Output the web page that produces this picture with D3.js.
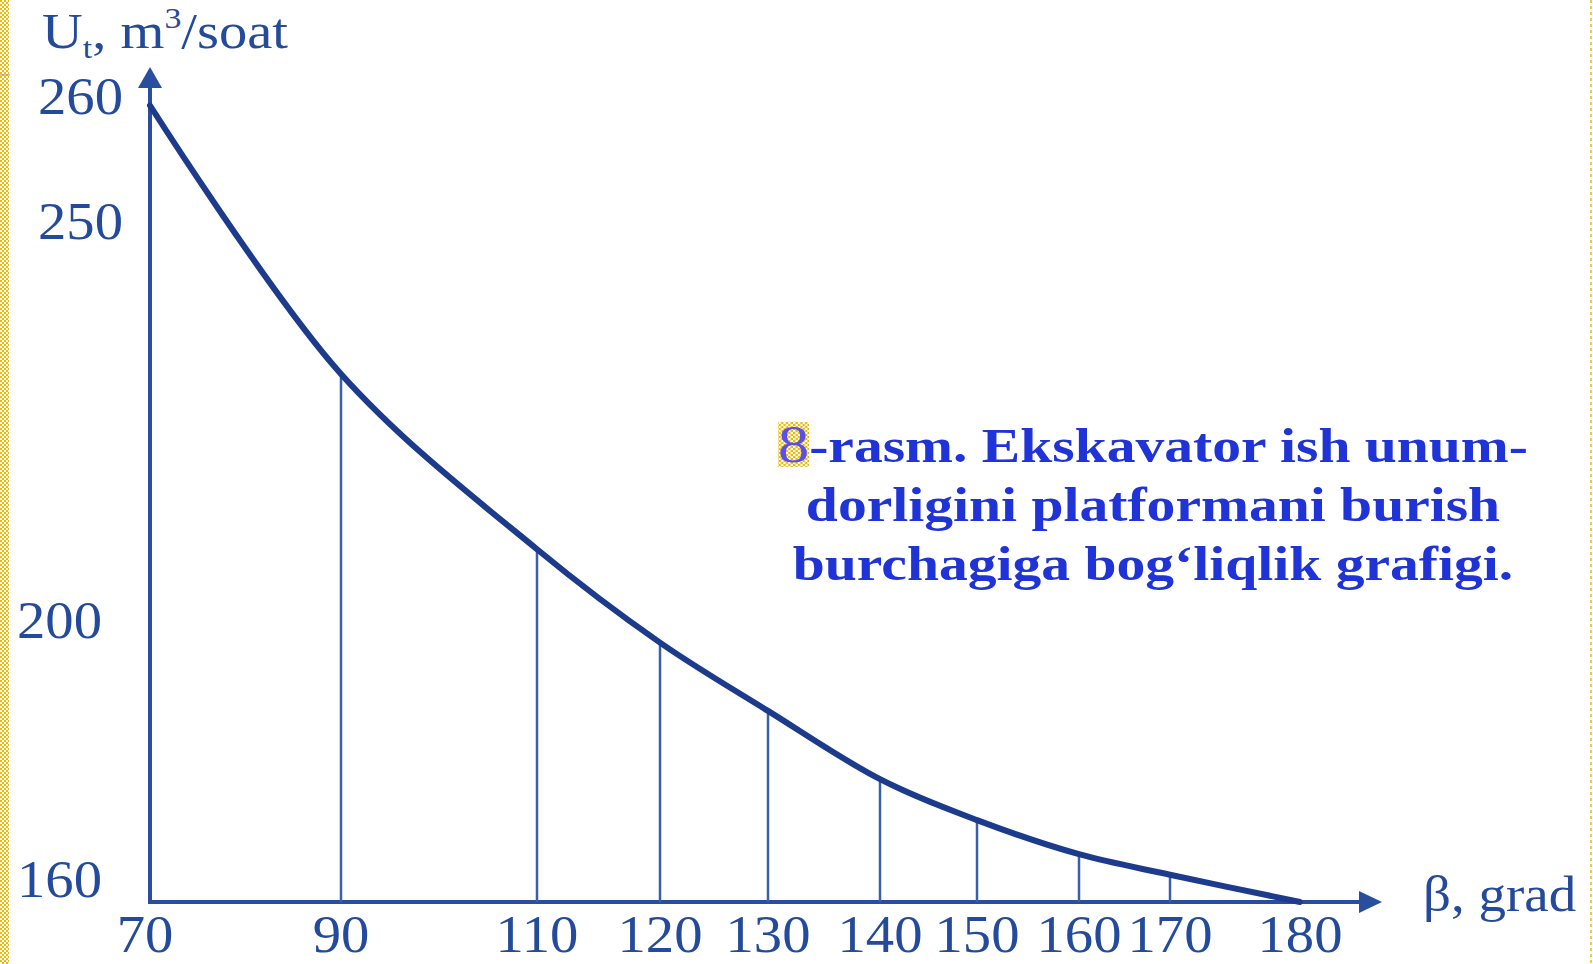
<!DOCTYPE html>
<html>
<head>
<meta charset="utf-8">
<script src="https://cdn.jsdelivr.net/npm/d3@7"></script>
<style>
  body { margin: 0; background: #fff; }
  svg { display: block; }
</style>
</head>
<body>
<div id="chart"></div>
<script>
// platform turn angle, degrees
const angles = [70, 90, 110, 120, 130, 140, 150, 160, 170, 180];
// excavator output U_t, m3/soat
const output = [260, 232, 210, 198, 188, 178, 172, 167, 164, 160];

const xTicks = [70, 90, 110, 120, 130, 140, 150, 160, 170, 180];
const yTicks = [160, 200, 250, 260];
const caption = ["8", "-rasm. Ekskavator ish unum-", "dorligini platformani burish", "burchagiga bog‘liqlik grafigi."];

const width = 1593, height = 964;
const axisColor = "#2a4e9e", curveColor = "#1c3b8c", textColor = "#244a9b";
const font = "'Liberation Serif', 'Times New Roman', serif";
// the original picture is a bit stretched sideways
const stretch = 1.09;

const svg = d3.select("#chart")
  .append("svg")
  .attr("width", width)
  .attr("height", height);

// yellow checker strip on the left edge
const defs = svg.append("defs");
const pat = defs.append("pattern")
  .attr("id", "checker")
  .attr("width", 4).attr("height", 4)
  .attr("patternUnits", "userSpaceOnUse");
pat.append("rect").attr("width", 4).attr("height", 4).attr("fill", "#fff");
pat.append("rect").attr("width", 2).attr("height", 2).attr("fill", "#f2b800");
pat.append("rect").attr("x", 2).attr("y", 2).attr("width", 2).attr("height", 2).attr("fill", "#f2b800");

svg.append("rect").attr("x", 0).attr("y", 0).attr("width", 9).attr("height", height).attr("fill", "url(#checker)");
svg.append("line").attr("x1", 0).attr("x2", 10).attr("y1", 75).attr("y2", 75).attr("stroke", "#999").attr("stroke-width", 1);
svg.append("line").attr("x1", 1591).attr("x2", 1591).attr("y1", 0).attr("y2", height)
  .attr("stroke", "#f2b800").attr("stroke-width", 1.5).attr("stroke-dasharray", "3,3");

// the drawing uses uneven spacing on both axes, so piecewise scales
const x = d3.scaleLinear()
  .domain(xTicks)
  .range([150, 341, 537, 660, 768, 880, 977, 1079, 1170, 1300]);

const y = d3.scaleLinear()
  .domain(yTicks)
  .range([902, 629, 230.5, 105.5]);

const x0 = x(70), y0 = y(160);

// axes with arrows
svg.append("line")
  .attr("x1", x0).attr("y1", y0 + 2)
  .attr("x2", x0).attr("y2", 84)
  .attr("stroke", axisColor).attr("stroke-width", 4);
svg.append("path")
  .attr("d", `M${x0},67 L${x0 - 12},88 L${x0 + 12},88 Z`)
  .attr("fill", axisColor);

svg.append("line")
  .attr("x1", x0 - 2).attr("y1", y0)
  .attr("x2", 1364).attr("y2", y0)
  .attr("stroke", axisColor).attr("stroke-width", 4);
svg.append("path")
  .attr("d", `M1382,${y0} L1359,${y0 - 11} L1359,${y0 + 11} Z`)
  .attr("fill", axisColor);

// vertical drop lines
const points = angles.map((a, i) => ({ a: a, v: output[i] }));

svg.selectAll(".drop")
  .data(points.slice(1, -1))
  .join("line")
  .attr("class", "drop")
  .attr("x1", d => x(d.a)).attr("x2", d => x(d.a))
  .attr("y1", d => y(d.v)).attr("y2", y0)
  .attr("stroke", "#3a60ac")
  .attr("stroke-width", 2.5);

// the curve
const line = d3.line()
  .x(d => x(d.a))
  .y(d => y(d.v))
  .curve(d3.curveCatmullRom.alpha(0.5));

svg.append("path")
  .datum(points)
  .attr("d", line)
  .attr("fill", "none")
  .attr("stroke", curveColor)
  .attr("stroke-width", 6)
  .attr("stroke-linecap", "round");

// tick labels
svg.selectAll(".xlab")
  .data(xTicks)
  .join("text")
  .attr("class", "xlab")
  .attr("transform", d => `translate(${x(d) - (d === 70 ? 5 : 0)},952) scale(${stretch},1)`)
  .attr("text-anchor", "middle")
  .attr("font-family", font)
  .attr("font-size", 52)
  .attr("fill", textColor)
  .text(d => d);

svg.selectAll(".ylab")
  .data(yTicks)
  .join("text")
  .attr("class", "ylab")
  .attr("transform", d => `translate(${d >= 250 ? 123 : 102},${d === 160 ? y(d) - 23 : y(d) - 9}) scale(${stretch},1)`)
  .attr("dy", "0.34em")
  .attr("text-anchor", "end")
  .attr("font-family", font)
  .attr("font-size", 52)
  .attr("fill", textColor)
  .text(d => d);

// axis titles
const yt = svg.append("text")
  .attr("transform", `translate(42,48) scale(1.13,1)`)
  .attr("font-family", font)
  .attr("font-size", 50)
  .attr("fill", textColor);
yt.append("tspan").text("U");
yt.append("tspan").attr("font-size", 30).attr("dy", 10).text("t");
yt.append("tspan").attr("dy", -10).text(", m");
yt.append("tspan").attr("font-size", 30).attr("dy", -20).text("3");
yt.append("tspan").attr("dy", 20).text("/soat");

svg.append("text")
  .attr("transform", `translate(1423,911) scale(1.1,1)`)
  .attr("font-family", font)
  .attr("font-size", 50)
  .attr("fill", textColor)
  .text("β, grad");

// caption
const cap = svg.append("g")
  .attr("transform", "translate(1153,0) scale(1.2,1)")
  .attr("font-family", font)
  .attr("font-weight", "bold")
  .attr("font-size", 48)
  .attr("fill", "#1f33d6")
  .attr("text-anchor", "middle");

const hl = cap.append("rect").attr("fill", "url(#checker)");
const l1 = cap.append("text").attr("x", 0).attr("y", 462);
l1.append("tspan").attr("fill", "#5a4fe6").attr("font-weight", "normal").attr("font-size", 52).text(caption[0]);
l1.append("tspan").text(caption[1]);
cap.append("text").attr("x", 0).attr("y", 521).text(caption[2]);
cap.append("text").attr("x", 0).attr("y", 580).text(caption[3]);

const box = l1.node().getExtentOfChar(0);
hl.attr("x", box.x).attr("y", box.y + 6).attr("width", box.width).attr("height", box.height - 12);
</script>
</body>
</html>
